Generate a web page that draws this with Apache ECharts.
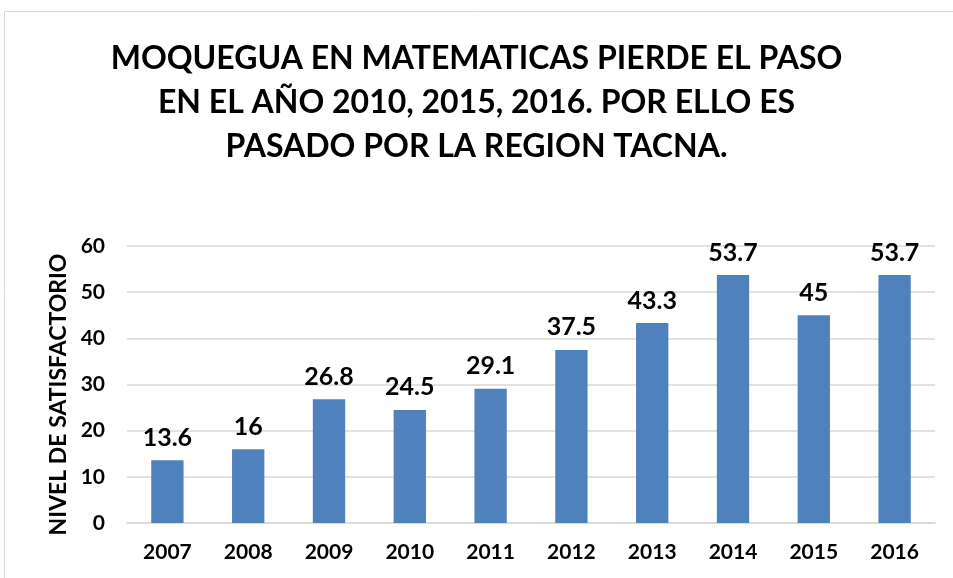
<!DOCTYPE html>
<html>
<head>
<meta charset="utf-8">
<script src="https://cdn.jsdelivr.net/npm/echarts@6/dist/echarts.min.js"></script>
<style>
  html, body { margin: 0; padding: 0; background: #fff; }
  #chart { width: 953px; height: 578px; }
</style>
</head>
<body>
<div id="chart"></div>
<script>
var years = ['2007', '2008', '2009', '2010', '2011', '2012', '2013', '2014', '2015', '2016'];
var values = [13.6, 16, 26.8, 24.5, 29.1, 37.5, 43.3, 53.7, 45, 53.7];
var titleLines = [
    'MOQUEGUA EN MATEMATICAS PIERDE EL PASO',
    'EN EL AÑO 2010, 2015, 2016. POR ELLO ES',
    'PASADO POR LA REGION TACNA.'
];

var font = 'Lato, "Open Sans", sans-serif';
var chart = echarts.init(document.getElementById('chart'));

var option = {
    backgroundColor: '#fff',
    animation: false,
    graphic: [{
        type: 'rect',
        shape: { x: 4.5, y: 11.5, width: 1000, height: 700 },
        style: { fill: 'none', stroke: '#d9d9d9', lineWidth: 1 }
    }],
    title: {
        text: titleLines.join('\n'),
        left: 'center',
        top: 32,
        textStyle: {
            fontFamily: font,
            fontSize: 32,
            fontWeight: 'bold',
            color: '#000',
            lineHeight: 44
        }
    },
    grid: { left: 127, right: 18, top: 246, bottom: 55 },
    xAxis: {
        type: 'category',
        data: years,
        axisTick: { show: false },
        axisLine: { lineStyle: { color: '#d9d9d9', width: 1.5 } },
        axisLabel: {
            color: '#000',
            fontFamily: font,
            fontWeight: 'bold',
            fontSize: 21,
            margin: 19
        }
    },
    yAxis: {
        type: 'value',
        min: 0,
        max: 60,
        interval: 10,
        name: 'NIVEL DE SATISFACTORIO',
        nameLocation: 'middle',
        nameGap: 55,
        nameTextStyle: {
            color: '#000',
            fontFamily: font,
            fontWeight: 'bold',
            fontSize: 23,
            padding: [0, 20, 0, 0]
        },
        axisLine: { show: false },
        axisTick: { show: false },
        splitLine: { lineStyle: { color: '#d9d9d9', width: 1.5 } },
        axisLabel: {
            color: '#000',
            fontFamily: font,
            fontWeight: 'bold',
            fontSize: 21,
            margin: 22
        }
    },
    series: [{
        type: 'bar',
        data: values,
        barWidth: '40%',
        itemStyle: { color: '#4f81bd' },
        label: {
            show: true,
            position: 'top',
            distance: 10,
            color: '#000',
            fontFamily: font,
            fontWeight: 'bold',
            fontSize: 25
        }
    }]
};

chart.setOption(option);
</script>
</body>
</html>
